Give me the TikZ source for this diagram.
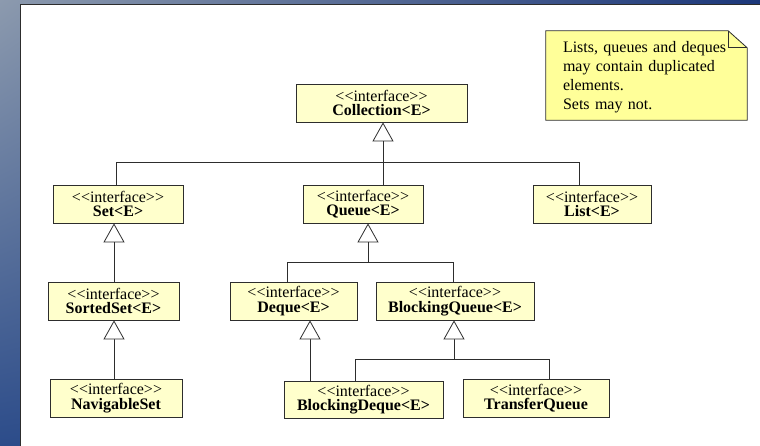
\documentclass[tikz,border=0pt]{standalone}
\usepackage{fontspec}
\setmainfont{Liberation Serif}
\usetikzlibrary{arrows.meta,shadings,shadows}
\definecolor{boxfill}{RGB}{255,255,204}
\definecolor{notefill}{RGB}{255,255,153}
\definecolor{edge}{RGB}{45,45,45}
\definecolor{bgA}{RGB}{140,154,174}
\definecolor{bgB}{RGB}{28,55,122}
\definecolor{bgC}{RGB}{44,76,138}
\definecolor{bgD}{RGB}{30,58,125}
\pgfdeclarelayer{bg}
\pgfsetlayers{bg,main}
\begin{document}
\begin{tikzpicture}[x=1pt,y=-1pt,
  iface/.style={draw=edge, fill=boxfill, line width=0.8pt, inner sep=0pt,
    minimum height=38pt, align=center, text=black,
    font=\fontsize{16}{14.5}\selectfont,
    drop shadow={shadow xshift=1pt, shadow yshift=-1pt, fill=black!35, opacity=1}},
  notetext/.style={draw=none, inner xsep=17pt, inner ysep=0pt, text width=167pt,
    minimum height=89pt, align=left, font=\fontsize{16}{19}\selectfont},
  link/.style={draw=edge, line width=0.8pt},
  inh/.style={link, -{Triangle[length=19pt,width=21pt,fill=white]}}]
\useasboundingbox (0,0) rectangle (760,446);
\begin{pgfonlayer}{bg}
\shade[upper left=bgA, upper right=bgB, lower left=bgC, lower right=bgD] (0,0) rectangle (760,446);
\fill[white] (20,5) rectangle (760,446);
\draw[edge, line width=1pt] (20,446) -- (20,5) -- (760,5);
\end{pgfonlayer}

% interfaces
\node[iface, minimum width=171pt] (coll) at (381.5,103) {{<}{<}interface{>}{>}\\\textbf{Collection{<}E{>}}};
\node[iface, minimum width=130pt] (set) at (118,204) {{<}{<}interface{>}{>}\\\textbf{Set{<}E{>}}};
\node[iface, minimum width=120pt] (queue) at (363,204) {{<}{<}interface{>}{>}\\\textbf{Queue{<}E{>}}};
\node[iface, minimum width=118pt] (list) at (592,204) {{<}{<}interface{>}{>}\\\textbf{List{<}E{>}}};
\node[iface, minimum width=131pt] (sorted) at (113.5,301) {{<}{<}interface{>}{>}\\\textbf{SortedSet{<}E{>}}};
\node[iface, minimum width=127pt] (deque) at (293.5,301) {{<}{<}interface{>}{>}\\\textbf{Deque{<}E{>}}};
\node[iface, minimum width=158pt] (bq) at (455,301) {{<}{<}interface{>}{>}\\\textbf{BlockingQueue{<}E{>}}};
\node[iface, minimum width=132pt] (nav) at (116,398) {{<}{<}interface{>}{>}\\\textbf{NavigableSet}};
\node[iface, minimum width=159pt, minimum height=37pt] (bd) at (363.5,399.5) {{<}{<}interface{>}{>}\\\textbf{BlockingDeque{<}E{>}}};
\node[iface, minimum width=146pt] (tq) at (536,398) {{<}{<}interface{>}{>}\\\textbf{TransferQueue}};

% junction points
\coordinate (jc) at (383,162);
\coordinate (jset) at (116,162);
\coordinate (jlist) at (579,162);
\coordinate (xs) at (114,260);
\coordinate (jq) at (368,262);
\coordinate (jd) at (287,262);
\coordinate (jbq) at (453,262);
\coordinate (xd) at (310,360);
\coordinate (jb) at (454,359);
\coordinate (jb1) at (355,359);
\coordinate (jb2) at (549,359);

% Collection
\draw[link] (set.north -| jset) -- (jset) -- (jlist) -- (list.north -| jlist);
\draw[link] (jc) -- (queue.north -| jc);
\draw[inh] (jc) -- (coll.south -| jc);
% Set chain
\draw[inh] (sorted.north -| xs) -- (set.south -| xs);
\draw[inh] (nav.north -| xs) -- (sorted.south -| xs);
% Queue
\draw[link] (deque.north -| jd) -- (jd) -- (jbq) -- (bq.north -| jbq);
\draw[inh] (jq) -- (queue.south -| jq);
% Deque
\draw[inh] (bd.north -| xd) -- (deque.south -| xd);
% BlockingQueue
\draw[link] (bd.north -| jb1) -- (jb1) -- (jb2) -- (tq.north -| jb2);
\draw[inh] (jb) -- (bq.south -| jb);

% note
\node[notetext] (note) at (646.5,77) {Lists, queues and deques\\may contain duplicated\\elements.\\Sets may not.};
\begin{pgfonlayer}{bg}
\draw[edge, line width=0.8pt, fill=notefill]
  ([yshift=1.5pt]note.north west) -- ([xshift=-19pt,yshift=1.5pt]note.north east)
  -- ([yshift=-15.5pt]note.north east) -- ([yshift=1.5pt]note.south east)
  -- ([yshift=1.5pt]note.south west) -- cycle;
\draw[edge, line width=0.8pt] ([xshift=-19pt,yshift=1.5pt]note.north east) |- ([yshift=-15.5pt]note.north east);
\end{pgfonlayer}
\end{tikzpicture}
\end{document}
